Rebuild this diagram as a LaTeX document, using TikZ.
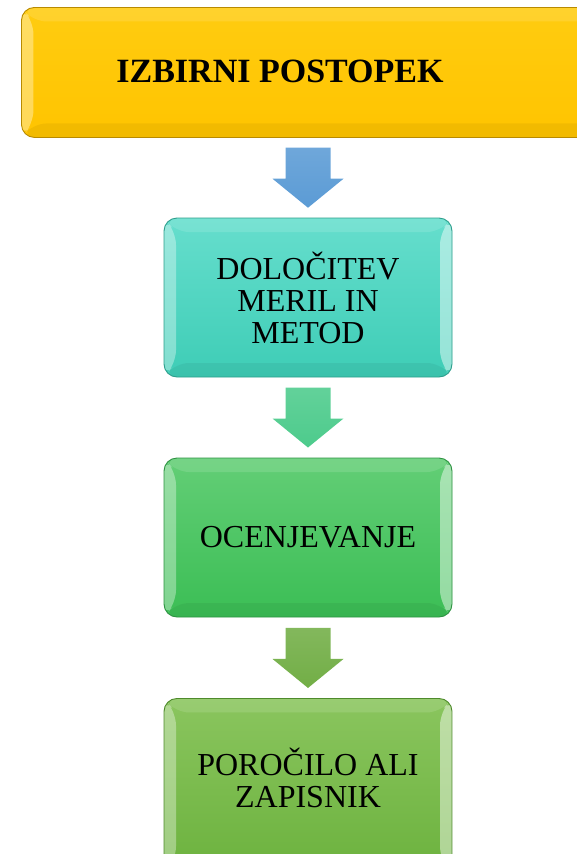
\documentclass[tikz,border=0pt]{standalone}
\usepackage{fontspec}
\setmainfont{Liberation Serif}
\usetikzlibrary{calc}
\begin{document}
\begin{tikzpicture}[x=1pt,y=-1pt]
\definecolor{yelA}{HTML}{FFCC10}
\definecolor{yelB}{HTML}{FFC400}
\definecolor{yelD}{HTML}{B88A00}
\definecolor{teaA}{HTML}{66DECD}
\definecolor{teaB}{HTML}{3ECDB6}
\definecolor{teaD}{HTML}{2E9E8C}
\definecolor{grnA}{HTML}{63CE76}
\definecolor{grnB}{HTML}{3BBE55}
\definecolor{grnD}{HTML}{2E9242}
\definecolor{lgrA}{HTML}{8AC55E}
\definecolor{lgrB}{HTML}{6CB23E}
\definecolor{lgrD}{HTML}{4E8A2C}
\definecolor{arBlue}{HTML}{5B9BD5}
\definecolor{arTeal}{HTML}{4DCB8C}
\definecolor{arGreen}{HTML}{72AE46}
\tikzset{
  gbox/.style n args={3}{rounded corners=13pt, draw=#3, line width=0.9pt,
    top color=#1, bottom color=#2, inner sep=0pt, align=center,
    font=\fontsize{32}{32}\selectfont,
    path picture={
      \fill[white,opacity=0.35]
        (path picture bounding box.north west) --
        ([xshift=12pt,yshift=-14pt]path picture bounding box.north west) --
        ([xshift=12pt,yshift=14pt]path picture bounding box.south west) --
        (path picture bounding box.south west) -- cycle;
      \fill[white,opacity=0.45]
        (path picture bounding box.north east) --
        ([xshift=-12pt,yshift=-14pt]path picture bounding box.north east) --
        ([xshift=-12pt,yshift=14pt]path picture bounding box.south east) --
        (path picture bounding box.south east) -- cycle;
      \fill[black,opacity=0.05]
        (path picture bounding box.south west) --
        ([xshift=12pt,yshift=14pt]path picture bounding box.south west) --
        ([xshift=-12pt,yshift=14pt]path picture bounding box.south east) --
        (path picture bounding box.south east) -- cycle;
      \fill[white,opacity=0.12]
        (path picture bounding box.north west) --
        ([xshift=12pt,yshift=-14pt]path picture bounding box.north west) --
        ([xshift=-12pt,yshift=-14pt]path picture bounding box.north east) --
        (path picture bounding box.north east) -- cycle;
    }},
  downarrow/.pic={
    \shade[top color=#1!88!white, bottom color=#1] (-22.5,-30) -- (22.5,-30) -- (22.5,1) -- (35.5,1) -- (0,30)
      -- (-35.5,1) -- (-22.5,1) -- cycle;
  }
}
\useasboundingbox (0,0) rectangle (577,854);
\clip (0,0) rectangle (577,854);

% top box (extends past right edge)
\node[gbox={yelA}{yelB}{yelD}, minimum width=600pt, minimum height=130pt, anchor=north west] (top) at (21,7) {};
\node[font=\bfseries\fontsize{34}{34}\selectfont] (toptext) at (280,71) {IZBIRNI POSTOPEK};

\node[gbox={teaA}{teaB}{teaD}, minimum width=288pt, minimum height=159pt] (b2) at (308,297.5)
  {DOLOČITEV\\MERIL IN\\METOD};
\node[gbox={grnA}{grnB}{grnD}, minimum width=288pt, minimum height=159pt] (b3) at (308,537.5)
  {OCENJEVANJE};
\node[gbox={lgrA}{lgrB}{lgrD}, minimum width=288pt, minimum height=175pt, anchor=north] (b4) at (308,698) {};
\node[align=center, font=\fontsize{32}{32}\selectfont] (b4text) at (308,778) {POROČILO ALI\\ZAPISNIK};

% block arrows between boxes
\coordinate (a1) at ($(top.south)!0.5!(b2.north)$);
\path (b2.north |- a1) pic {downarrow=arBlue};
\path ($(b2.south)!0.5!(b3.north)$) pic {downarrow=arTeal};
\path (b3.south) ++(0,40.5) pic {downarrow=arGreen};
\end{tikzpicture}
\end{document}
